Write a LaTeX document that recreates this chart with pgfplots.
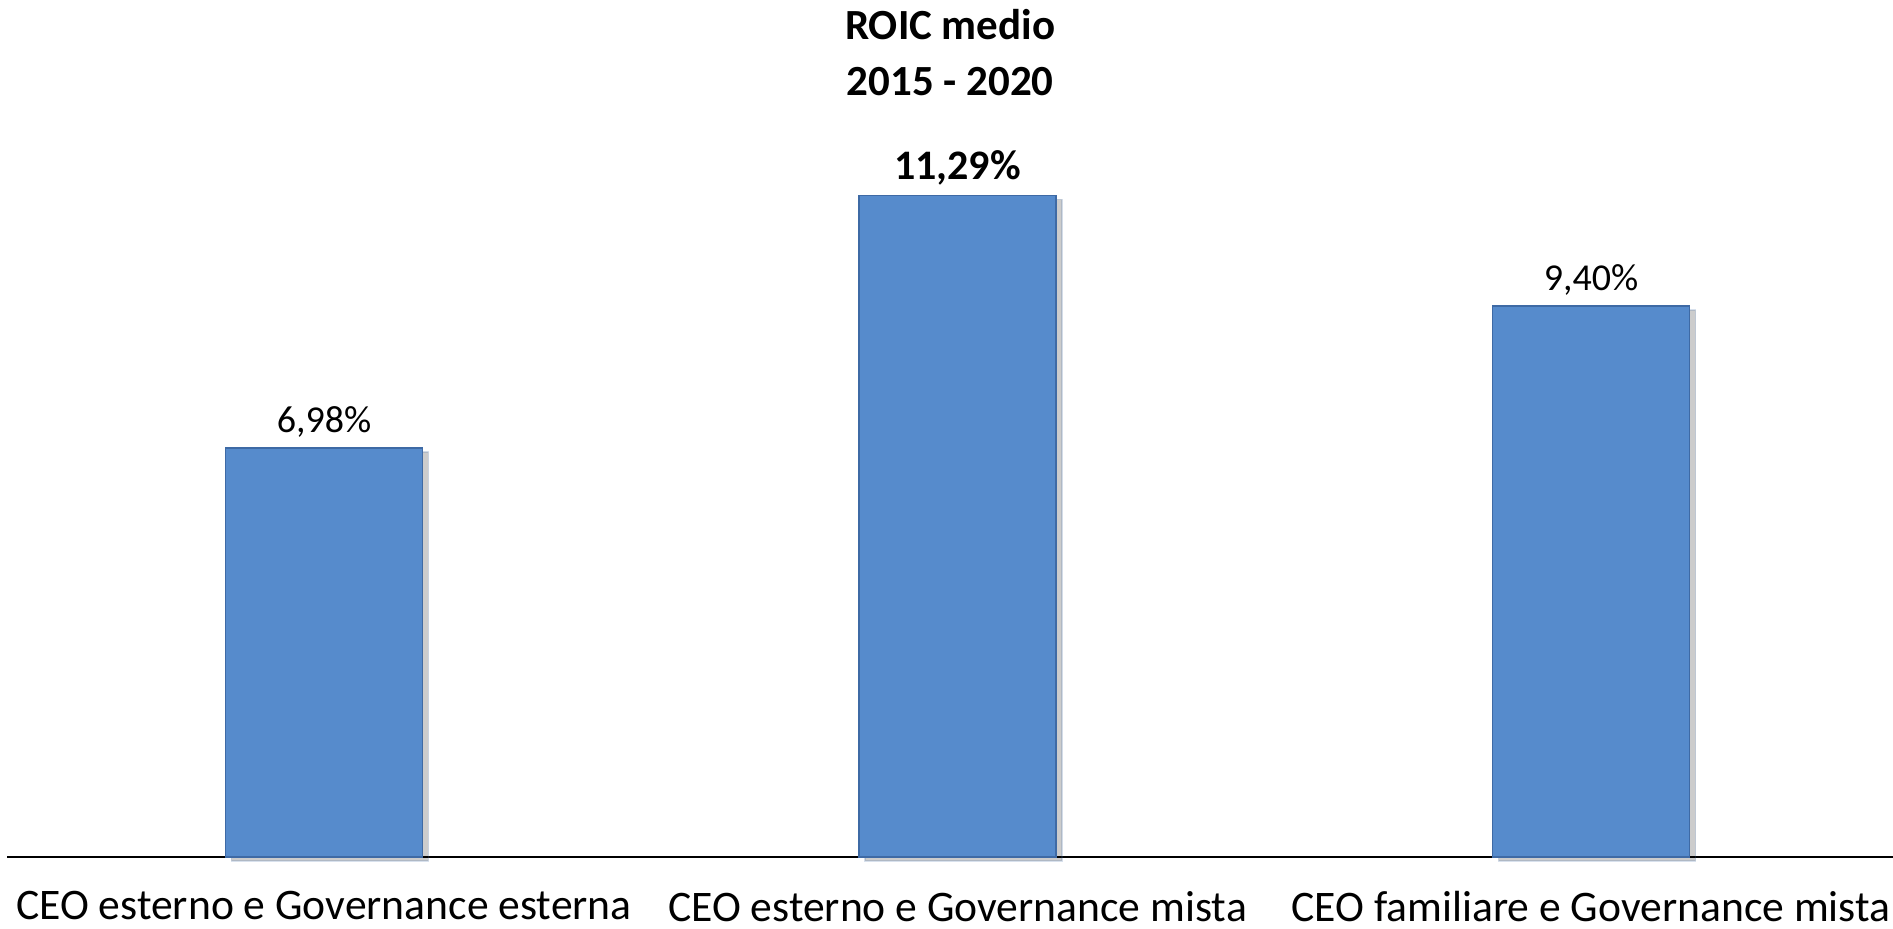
\documentclass[border=0pt]{standalone}
\usepackage{fontspec}
\setmainfont{Carlito}
\usepackage{pgfplots}
\pgfplotsset{compat=1.18}
\usetikzlibrary{shadows}

\definecolor{barblue}{RGB}{86,139,204}
\definecolor{baredge}{RGB}{62,106,165}

\begin{document}
\begin{tikzpicture}
\path[use as bounding box] (0,-36pt) rectangle (946.5pt,428.5pt);
\begin{axis}[
    at={(3.6pt,0)}, anchor=south west,
    scale only axis,
    width=943pt, height=428.5pt,
    xmin=-0.5, xmax=2.477,
    ymin=0, ymax=14.625,
    axis x line=bottom,
    axis y line=none,
    x axis line style={-, black, line width=1pt},
    xtick={0,1,2},
    xticklabels={CEO esterno e Governance esterna, CEO esterno e Governance mista, CEO familiare e Governance mista},
    major tick length=0pt,
    xticklabel style={font=\fontsize{21.8}{26}\selectfont, yshift=-13.5pt},
    ytick=\empty,
    title={ROIC medio\\2015 - 2020},
    title style={at={(0.5,1)}, anchor=north, align=center, yshift=-7pt,
        font=\bfseries\fontsize{21.5}{28}\selectfont},
    clip=false,
]
\addplot[ybar, bar width=98.5pt, fill=barblue, draw=baredge, line width=0.8pt,
    drop shadow={shadow xshift=3pt, shadow yshift=-2pt, opacity=0.2, fill=black},
    point meta=explicit symbolic,
    nodes near coords,
    nodes near coords style={font=\fontsize{19}{23}\selectfont, anchor=south, yshift=1.5pt},
    ] coordinates {
    (0,6.98) [6,98\%]
    (1,11.29) [\textbf{\fontsize{21}{25}\selectfont 11,29\%}]
    (2,9.40) [9,40\%]
};
\end{axis}
\end{tikzpicture}
\end{document}
